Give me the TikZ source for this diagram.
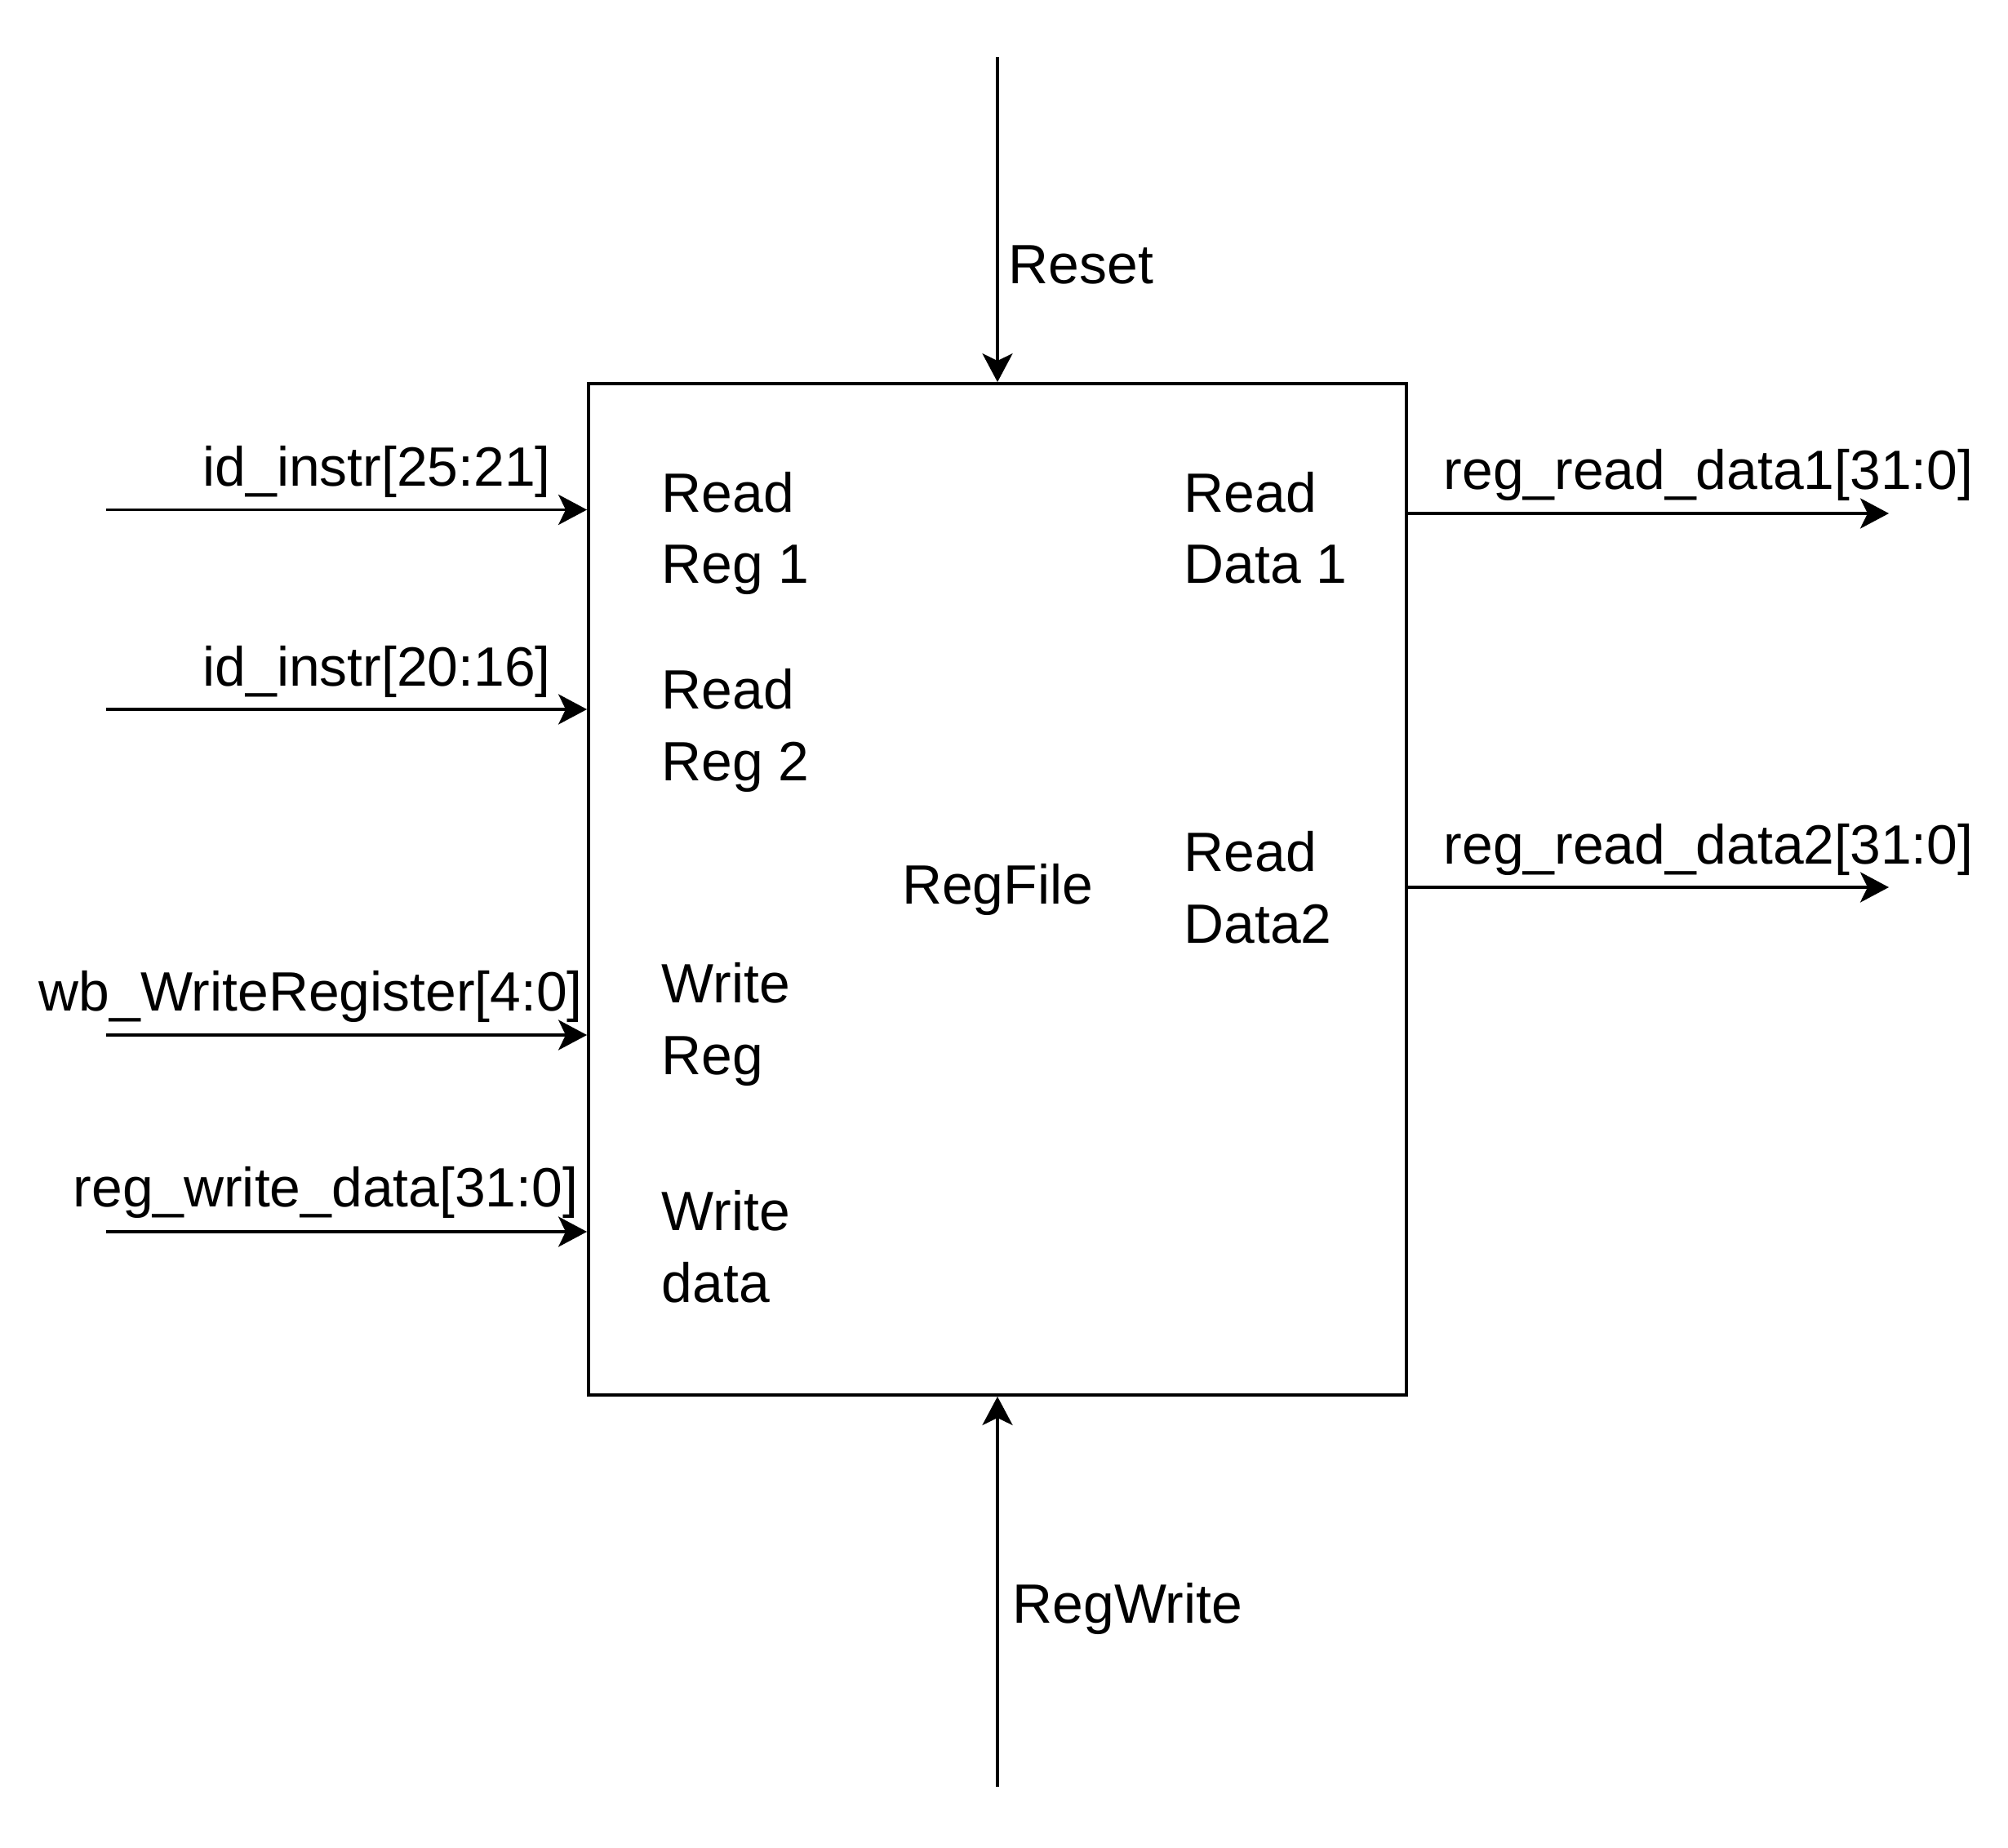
\documentclass[tikz,border=0pt]{standalone}
\usepackage{fontspec}
\setmainfont{Liberation Sans}
\usepackage{tikz}
\usetikzlibrary{positioning, arrows.meta}

\tikzset{
    sig/.style={line width=1.1pt, -{Stealth[length=0.35cm, width=0.37cm, inset=0.09cm]}},
    lbl/.style={anchor=base west, inner sep=0pt, font=\fontsize{19.3}{24.8}\selectfont},
    port/.style={lbl, align=left},
}

\begin{document}
\begin{tikzpicture}
            \useasboundingbox (0,0) rectangle (24.6,-22.64);
            \node[draw, line width=1.1pt, minimum width=10.02cm, minimum height=12.39cm] (rf) at (12.22,-10.895) {};
            \node[lbl, anchor=base] (rfname) at (12.22,-11.07) {RegFile};
            % ports inside the block
            \node[port] (rr1) at (8.10,-7.15) {Read\\Reg 1};
            \node[port] (rr2) at (8.10,-9.56) {Read\\Reg 2};
            \node[port] (wr) at (8.10,-13.16) {Write\\Reg};
            \node[port] (wd) at (8.10,-15.95) {Write\\data};
            \node[port] (rd1) at (14.50,-7.15) {Read\\Data 1};
            \node[port] (rd2) at (14.50,-11.55) {Read\\Data2};
            % inputs
            \coordinate (in1) at (1.30,-6.245);
            \coordinate (in2) at (1.30,-8.69);
            \coordinate (in3) at (1.30,-12.68);
            \coordinate (in4) at (1.30,-15.09);
            \draw[sig] (in1) -- (in1 -| rf.west);
            \draw[sig] (in2) -- (in2 -| rf.west);
            \draw[sig] (in3) -- (in3 -| rf.west);
            \draw[sig] (in4) -- (in4 -| rf.west);
            \node[lbl] (in1l) at (2.48,-5.96) {id\_instr[25:21]};
            \node[lbl] (in2l) at (2.48,-8.40) {id\_instr[20:16]};
            \node[lbl] (in3l) at (0.47,-12.38) {wb\_WriteRegister[4:0]};
            \node[lbl] (in4l) at (0.89,-14.78) {reg\_write\_data[31:0]};
            % outputs
            \coordinate (out1) at (23.14,-6.29);
            \coordinate (out2) at (23.14,-10.87);
            \draw[sig] (rf.east |- out1) -- (out1);
            \draw[sig] (rf.east |- out2) -- (out2);
            \node[lbl] (out1l) at (17.68,-6.00) {reg\_read\_data1[31:0]};
            \node[lbl] (out2l) at (17.68,-10.58) {reg\_read\_data2[31:0]};
            % control
            \coordinate (rst) at (12.22,-0.70);
            \coordinate (rw) at (12.22,-21.89);
            \draw[sig] (rst) -- (rf.north);
            \draw[sig] (rw) -- (rf.south);
            \node[lbl] (rstl) at (12.35,-3.48) {Reset};
            \node[lbl] (rwl) at (12.40,-19.88) {RegWrite};
        \end{tikzpicture}
\end{document}
